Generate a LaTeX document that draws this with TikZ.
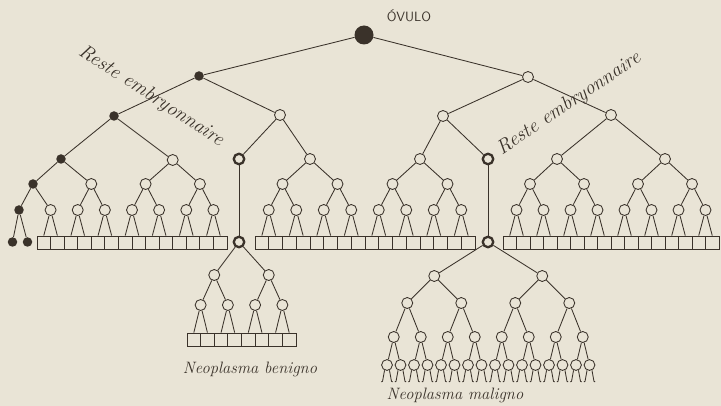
\documentclass[tikz,border=0pt]{standalone}
\usepackage{fontspec}
\definecolor{ink}{RGB}{58,50,42}
\definecolor{paper}{RGB}{233,228,214}
\begin{document}
\begin{tikzpicture}[x=1pt,y=-1pt,
  lk/.style={draw=ink,line width=0.85pt},
  wn/.style={circle,draw=ink,fill=paper,line width=0.85pt,minimum size=11pt,inner sep=0pt},
  bn/.style={circle,fill=ink,minimum size=9.5pt,inner sep=0pt},
  rootn/.style={circle,fill=ink,minimum size=19pt,inner sep=0pt},
  dn/.style={circle,draw=ink,fill=paper,line width=2.3pt,minimum size=10.5pt,inner sep=0pt},
  bx/.style={rectangle,draw=ink,fill=paper,line width=0.85pt,minimum height=13pt,inner sep=0pt},
  lbl/.style={text=ink,inner sep=0pt,font=\itshape\fontsize{20}{24}\selectfont},
  neo/.style={text=ink,inner sep=0pt,font=\itshape\fontsize{16.5}{20}\selectfont}]
\fill[paper] (0,0) rectangle (721,406);
\useasboundingbox (0,0) rectangle (721,406);
% upper tree
\node[rootn] (R) at (364,35) {};
\node[text=ink,inner sep=0pt,font=\sffamily\fontsize{13.5}{16}\selectfont] (ov) at (409,16) {ÓVULO};
\node[bn] (A) at (199,76) {};
\node[wn] (B) at (528,77) {};
\node[bn] (A1) at (114,116) {};
\node[wn] (A2) at (280,115) {};
\node[wn] (B1) at (443,116) {};
\node[wn] (B2) at (611,115) {};
\node[bn] (A1a) at (61,159) {};
\node[wn] (A1b) at (172.7,160) {};
\node[dn] (A2a) at (239,159) {};
\node[wn] (A2b) at (310,159) {};
\node[wn] (B1a) at (420,159) {};
\node[dn] (B1b) at (488,159) {};
\node[wn] (B2a) at (557,159) {};
\node[wn] (B2b) at (665,159) {};
% left group
\node[bn] (Lb4) at (33,184) {};
\node[wn] (Lw1) at (91.3,184) {};
\node[wn] (Lw2) at (145.6,184) {};
\node[wn] (Lw3) at (199.9,184) {};
\node[bn] (Lb5) at (19,210) {};
\node[bn] (Lb6a) at (12.5,242) {};
\node[bn] (Lb6b) at (27.5,242) {};
\foreach \j in {0,...,6} \node[wn] (La\j) at ({37+13.571*(2*\j+1)},210) {};
\foreach \j in {0,...,13} \node[bx,minimum width=13.571pt] (LB\j) at ({37+13.571*(\j+0.5)},242.5) {};
% middle group
\foreach \i in {0,...,3} \node[wn] (MD\i) at ({255+13.75*(4*\i+2)},184) {};
\foreach \j in {0,...,7} \node[wn] (ME\j) at ({255+13.75*(2*\j+1)},210) {};
\foreach \j in {0,...,15} \node[bx,minimum width=13.75pt] (MB\j) at ({255+13.75*(\j+0.5)},242.5) {};
% right group
\foreach \i in {0,...,3} \node[wn] (RD\i) at ({503+13.5*(4*\i+2)},184) {};
\foreach \j in {0,...,7} \node[wn] (RE\j) at ({503+13.5*(2*\j+1)},210) {};
\foreach \j in {0,...,15} \node[bx,minimum width=13.5pt] (RB\j) at ({503+13.5*(\j+0.5)},242.5) {};
% reste nodes at box level
\node[dn] (A2c) at (239,242) {};
\node[dn] (B1c) at (488,242) {};
% benign
\foreach \i in {0,1} \node[wn] (NA\i) at ({187+13.625*(4*\i+2)},275) {};
\foreach \j in {0,...,3} \node[wn] (NB\j) at ({187+13.625*(2*\j+1)},305) {};
\foreach \j in {0,...,7} \node[bx,minimum width=13.625pt] (NX\j) at ({187+13.625*(\j+0.5)},339.5) {};
% malignant
\foreach \i in {0,1} \node[wn] (GA\i) at ({387+13.5*(8*\i+3.5)},276) {};
\foreach \i in {0,...,3} \node[wn] (GB\i) at ({387+13.5*(4*\i+1.5)},303) {};
\foreach \i in {0,...,7} \node[wn] (GC\i) at ({387+13.5*(2*\i+0.5)},337) {};
\foreach \k in {0,...,15} \node[wn,minimum size=10.8pt] (GD\k) at ({387+13.5*\k},365) {};
% edges upper
\draw[lk] (R)--(A) (R)--(B) (A)--(A1) (A)--(A2) (B)--(B1) (B)--(B2)
  (A1)--(A1a) (A1)--(A1b) (A2)--(A2a) (A2)--(A2b) (B1)--(B1a) (B1)--(B1b)
  (B2)--(B2a) (B2)--(B2b);
\draw[lk] (A1a)--(Lb4) (A1a)--(Lw1) (A1b)--(Lw2) (A1b)--(Lw3)
  (Lb4)--(Lb5) (Lb4)--(La0) (Lw1)--(La1) (Lw1)--(La2) (Lw2)--(La3) (Lw2)--(La4)
  (Lw3)--(La5) (Lw3)--(La6) (Lb5)--(Lb6a) (Lb5)--(Lb6b);
\foreach \j in {0,...,6} {
  \pgfmathtruncatemacro\p{2*\j}\pgfmathtruncatemacro\q{2*\j+1}
  \draw[lk] (La\j)--(LB\p.north) (La\j)--(LB\q.north);
}
\draw[lk] (A2b)--(MD0) (A2b)--(MD1) (B1a)--(MD2) (B1a)--(MD3);
\draw[lk] (B2a)--(RD0) (B2a)--(RD1) (B2b)--(RD2) (B2b)--(RD3);
\foreach \i in {0,...,3} {
  \pgfmathtruncatemacro\p{2*\i}\pgfmathtruncatemacro\q{2*\i+1}
  \draw[lk] (MD\i)--(ME\p) (MD\i)--(ME\q) (RD\i)--(RE\p) (RD\i)--(RE\q);
}
\foreach \j in {0,...,7} {
  \pgfmathtruncatemacro\p{2*\j}\pgfmathtruncatemacro\q{2*\j+1}
  \draw[lk] (ME\j)--(MB\p.north) (ME\j)--(MB\q.north) (RE\j)--(RB\p.north) (RE\j)--(RB\q.north);
}
\draw[lk] (A2a)--(A2c) (B1b)--(B1c);
% benign edges
\draw[lk] (A2c)--(NA0) (A2c)--(NA1);
\foreach \i in {0,1} {
  \pgfmathtruncatemacro\p{2*\i}\pgfmathtruncatemacro\q{2*\i+1}
  \draw[lk] (NA\i)--(NB\p) (NA\i)--(NB\q);
}
\foreach \j in {0,...,3} {
  \pgfmathtruncatemacro\p{2*\j}\pgfmathtruncatemacro\q{2*\j+1}
  \draw[lk] (NB\j)--(NX\p.north) (NB\j)--(NX\q.north);
}
% malignant edges
\draw[lk] (B1c)--(GA0) (B1c)--(GA1);
\foreach \i in {0,1} {
  \pgfmathtruncatemacro\p{2*\i}\pgfmathtruncatemacro\q{2*\i+1}
  \draw[lk] (GA\i)--(GB\p) (GA\i)--(GB\q);
}
\foreach \i in {0,...,3} {
  \pgfmathtruncatemacro\p{2*\i}\pgfmathtruncatemacro\q{2*\i+1}
  \draw[lk] (GB\i)--(GC\p) (GB\i)--(GC\q);
}
\foreach \i in {0,...,7} {
  \pgfmathtruncatemacro\p{2*\i}\pgfmathtruncatemacro\q{2*\i+1}
  \draw[lk] (GC\i)--(GD\p) (GC\i)--(GD\q);
}
\foreach \k in {0,...,15} {
  \draw[lk] (GD\k.-115) -- ++(-2,11) -- ++(-1.2,0.6);
  \draw[lk] (GD\k.-65) -- ++(2,11) -- ++(1.2,0.6);
}
% labels
\node[lbl,rotate=-33] (re1) at (151,96) {Reste embryonnaire};
\node[lbl,rotate=34] (re2) at (569,104) {Reste embryonnaire};
\node[neo] (nb) at (250,369) {Neoplasma benigno};
\node[neo] (nm) at (455,395) {Neoplasma maligno};
\end{tikzpicture}
\end{document}
